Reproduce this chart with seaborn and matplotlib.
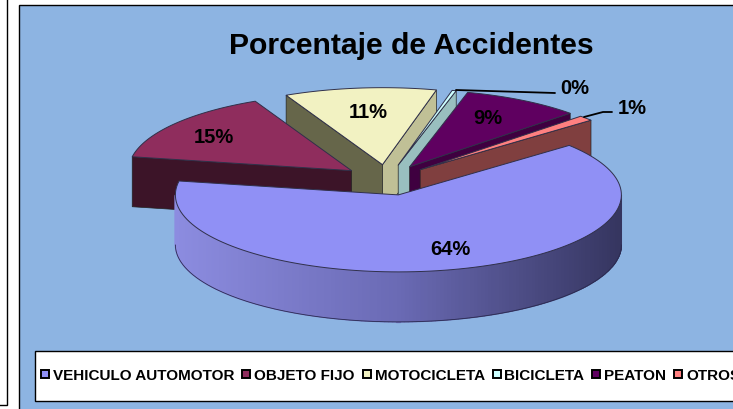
import numpy as np
import matplotlib
matplotlib.use("Agg")
import matplotlib.pyplot as plt
import seaborn as sns
from matplotlib.patches import Polygon, Rectangle
from matplotlib.lines import Line2D
from matplotlib.colors import to_rgb

categories = ["VEHICULO AUTOMOTOR", "OBJETO FIJO", "MOTOCICLETA", "BICICLETA", "PEATON", "OTROS"]
values = [64.0, 15.0, 11.0, 0.3, 8.6, 1.1]

top_colors = ["#9090F5", "#8F2D5D", "#F2F2C2", "#CCFFFF", "#5F0060", "#FF8080"]
start_wall = [None, "#3C1428", "#66664A", None, None, None]
end_wall = [None, None, "#C0C096", "#99BFBF", "#3F0040", "#803F3F"]
label_xy = [(450, 249), (214, 137), (368, 112), (575, 88), (488, 118), (632, 108)]
draw_order = [2, 3, 4, 5, 1, 0]

CX, CY, RX, RY, DEPTH, EXPLODE, START = 387, 181, 223, 77, 50, 0.2, 50.0

sns.set_theme(style="white")
plt.rcParams["font.family"] = ["Liberation Sans", "DejaVu Sans"]

fig = plt.figure(figsize=(7.33, 4.10), dpi=100, facecolor="white")
ax = fig.add_axes([0, 0, 1, 1])
ax.set_xlim(0, 733)
ax.set_ylim(410, 0)
ax.axis("off")

# frames
ax.add_patch(Rectangle((-10, -10), 16.5, 415.5, fc="white", ec="black", lw=1.0))
ax.add_patch(Rectangle((18.5, 5.5), 730, 420, fc="#8DB4E2", ec="black", lw=1.0))


def pt(apex, t, r=1.0):
    a = np.radians(t)
    return apex[0] + r * RX * np.sin(a), apex[1] - r * RY * np.cos(a)


total = sum(values)
angles = START + np.concatenate([[0], np.cumsum(values)]) * 360.0 / total

EDGE = "#30304A"
for i in draw_order:
    t1, t2 = angles[i], angles[i + 1]
    mid = (t1 + t2) / 2
    apex = pt((CX, CY), mid, EXPLODE)
    corner1, corner2 = pt(apex, t1), pt(apex, t2)

    def wall(p, q, col):
        ax.add_patch(Polygon([p, q, (q[0], q[1] + DEPTH), (p[0], p[1] + DEPTH)],
                             closed=True, fc=col, ec="#222222", lw=0.5))

    if start_wall[i]:
        wall(apex, corner1, start_wall[i])
    if end_wall[i]:
        wall(apex, corner2, end_wall[i])

    # outer rim, front half only
    lo, hi = max(t1, 90), min(t2, 270)
    if hi > lo:
        ts = np.linspace(lo, hi, 180)
        c_l, c_m, c_r = map(np.array, map(to_rgb, ["#8C8CE0", "#6A6AB4", "#35355F"]))
        for a, b in zip(ts[:-1], ts[1:]):
            p, q = pt(apex, a), pt(apex, b)
            f = (apex[0] + RX - (p[0] + q[0]) / 2) / (2 * RX)
            col = c_r + (c_m - c_r) * f / 0.5 if f < 0.5 else c_m + (c_l - c_m) * (f - 0.5) / 0.5
            ax.add_patch(Polygon([p, q, (q[0], q[1] + DEPTH), (p[0], p[1] + DEPTH)],
                                 closed=True, fc=col, ec=col, lw=0.9))
        bx, by = zip(*[pt(apex, a) for a in ts])
        ax.plot(bx, np.array(by) + DEPTH, color="#2A2A50", lw=0.6)

    ts = np.linspace(t1, t2, 120)
    ax.add_patch(Polygon([apex] + [pt(apex, a) for a in ts], closed=True,
                         fc=top_colors[i], ec=EDGE, lw=0.7, joinstyle="round"))

# leader lines
ax.plot([456, 555], [91, 94], color="black", lw=1.3)
ax.plot([584, 603, 612], [118, 113, 113], color="black", lw=1.3)

for v, (x, y) in zip(values, label_xy):
    ax.text(x, y + 1, f"{v:.0f}%", ha="center", va="center", fontsize=14.5,
            fontweight="bold", color="black")

ax.text(411.5, 46, "Porcentaje de Accidentes", ha="center", va="center",
        fontsize=21.7, fontweight="bold", color="black")

# legend box
ax.add_patch(Rectangle((35, 353), 720, 50, fc="#666666", ec="none"))
ax.add_patch(Rectangle((34.5, 351.5), 720, 50, fc="white", ec="black", lw=1.0))
handles = [Line2D([], [], ls="none", marker="s", ms=6.0, mfc=c, mec="black", mew=1.4) for c in top_colors]
leg = ax.legend(handles, categories, ncol=6, loc="center left", bbox_to_anchor=(40.5 / 733, 1 - 376.5 / 410),
                bbox_transform=fig.transFigure, frameon=False, borderpad=0, borderaxespad=0,
                handlelength=0.62, handletextpad=0.2, columnspacing=0.48,
                prop={"weight": "bold", "size": 10.95})
for t in leg.get_texts():
    t.set_color("black")

fig.savefig("out.png", dpi=100)
